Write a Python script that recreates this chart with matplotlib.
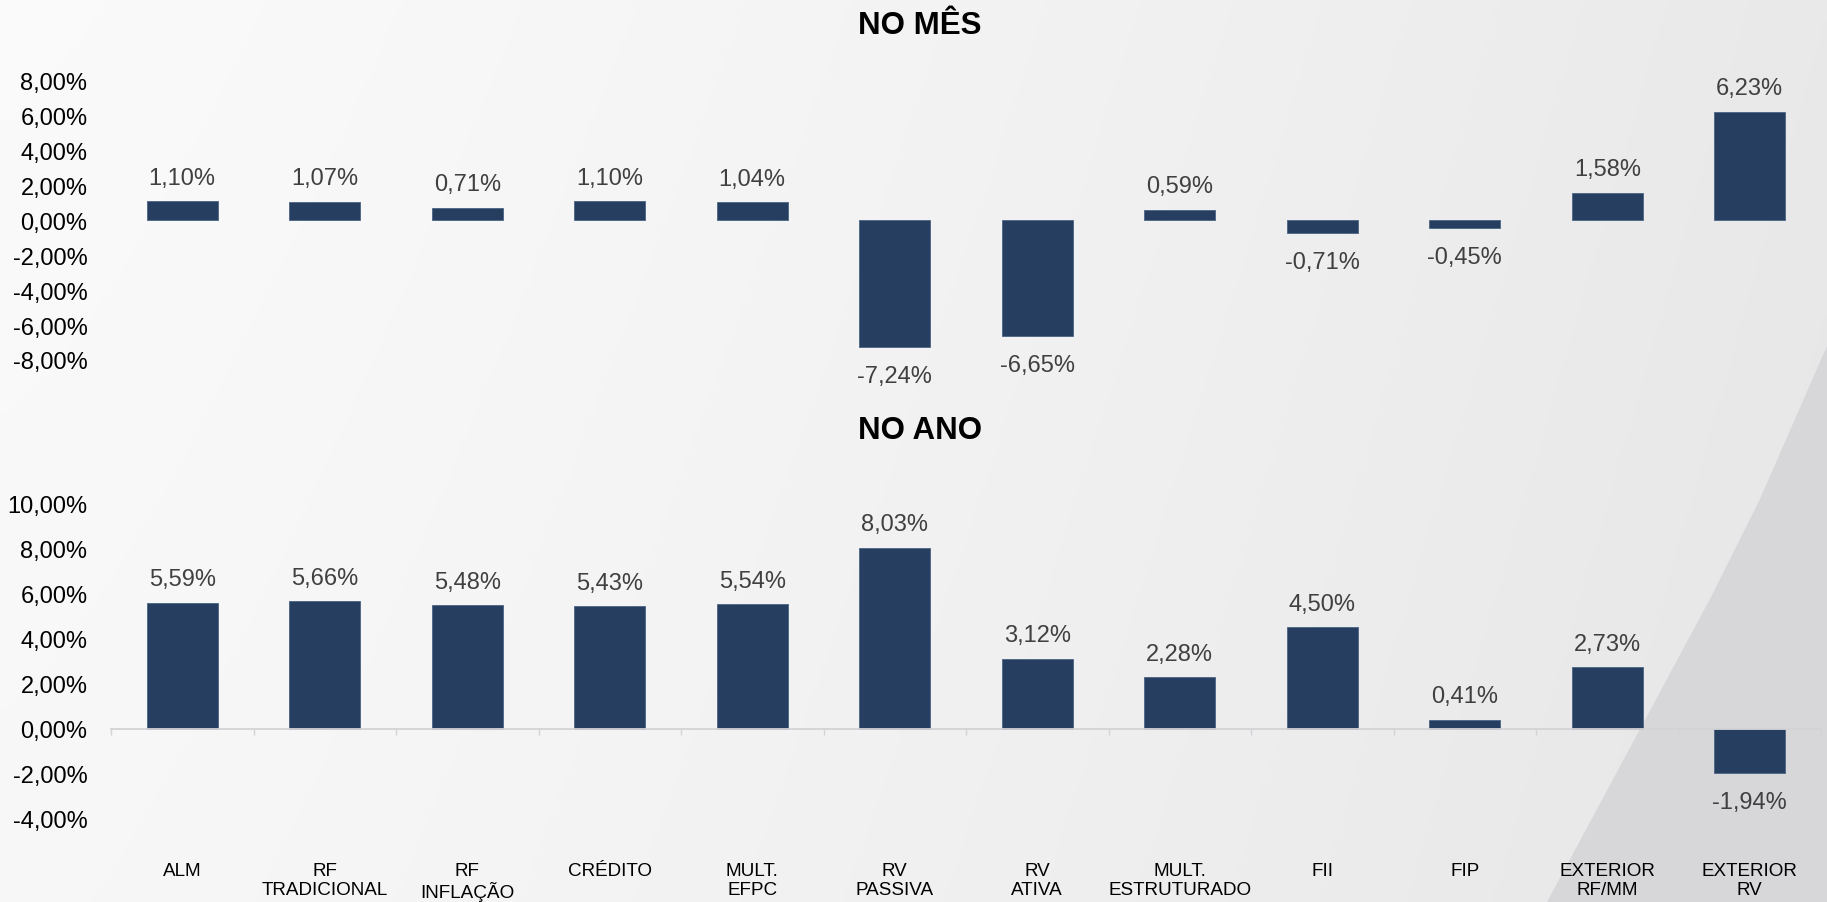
import numpy as np
import matplotlib
matplotlib.use("Agg")
import matplotlib.pyplot as plt
from matplotlib.patches import Polygon
from matplotlib.transforms import blended_transform_factory

plt.rcParams['font.family'] = ['Liberation Sans', 'DejaVu Sans']

# data
categories = ["ALM", "RF\nTRADICIONAL", "RF\nINFLAÇÃO", "CRÉDITO", "MULT.\nEFPC",
              "RV\nPASSIVA", "RV\nATIVA", "MULT.\nESTRUTURADO", "FII", "FIP",
              "EXTERIOR\nRF/MM", "EXTERIOR\nRV"]
no_mes = [1.10, 1.07, 0.71, 1.10, 1.04, -7.24, -6.65, 0.59, -0.71, -0.45, 1.58, 6.23]
no_ano = [5.59, 5.66, 5.48, 5.43, 5.54, 8.03, 3.12, 2.28, 4.50, 0.41, 2.73, -1.94]
ticks_mes = [-8, -6, -4, -2, 0, 2, 4, 6, 8]
ticks_ano = [-4, -2, 0, 2, 4, 6, 8, 10]

BAR = '#263f60'
W, H = 1827, 903


def pct(v):
    return f"{v:.2f}".replace('.', ',') + '%'


fig = plt.figure(figsize=(W / 100, H / 100), dpi=100)

# background: soft gradient plus darker wedge at bottom right
bg = fig.add_axes([0, 0, 1, 1], zorder=0)
gx = np.linspace(0, 1, 400)
gy = np.linspace(0, 1, 200)
GX, GY = np.meshgrid(gx, gy)
shade = 0.982 - 0.068 * GX ** 1.3 - 0.012 * GY
bg.imshow(np.dstack([shade, shade, shade * 1.004]).clip(0, 1), extent=[0, 1, 0, 1],
          aspect='auto', origin='upper')
wedge = [(1827, 347), (1760, 500), (1710, 600), (1547, 903), (1827, 903)]
bg.add_patch(Polygon([(px / W, 1 - py / H) for px, py in wedge], closed=True,
                     facecolor='#d7d7d9', edgecolor='none'))
bg.set_xlim(0, 1)
bg.set_ylim(0, 1)
bg.axis('off')

x = np.arange(len(categories))

ax1 = fig.add_axes([111 / W, 1 - 361 / H, 1710 / W, 279.4 / H], zorder=1)
ax2 = fig.add_axes([111 / W, 1 - 820 / H, 1710 / W, 315.5 / H], zorder=1)

for ax, vals, ticks in [(ax1, no_mes, ticks_mes), (ax2, no_ano, ticks_ano)]:
    ax.set_facecolor('none')
    ax.bar(x, vals, width=0.5, color=BAR, edgecolor='#4b6384', linewidth=0.6)
    ax.set_xlim(-0.5, len(categories) - 0.5)
    ax.set_ylim(ticks[0], ticks[-1])
    ax.set_yticks(ticks)
    ax.set_yticklabels([pct(t) for t in ticks], fontsize=17, color='black')
    ax.tick_params(axis='y', length=0, pad=17)
    for s in ['top', 'right', 'left', 'bottom']:
        ax.spines[s].set_visible(False)
    for xi, v in zip(x, vals):
        if v >= 0:
            ax.annotate(pct(v), (xi, v), xytext=(0, 9), textcoords='offset points',
                        ha='center', va='bottom', fontsize=17, color='#404040')
        else:
            ax.annotate(pct(v), (xi, v), xytext=(0, -13), textcoords='offset points',
                        ha='center', va='top', fontsize=17, color='#404040')

ax1.set_xticks([])

# bottom chart: zero axis line with boundary ticks
ax2.spines['bottom'].set_visible(True)
ax2.spines['bottom'].set_position(('data', 0))
ax2.spines['bottom'].set_color('#d3d3d5')
ax2.spines['bottom'].set_linewidth(1.3)
ax2.set_xticks([])
ax2.set_xticks(np.arange(len(categories) + 1) - 0.5, minor=True)
ax2.tick_params(axis='x', which='minor', length=4, width=1.0, color='#d3d3d5', direction='out')
ax2.tick_params(axis='x', which='major', length=0)

trans = blended_transform_factory(ax2.transData, ax2.transAxes)
for xi, lab in zip(x, categories):
    ax2.text(xi, -0.135, lab, transform=trans, ha='center', va='top', fontsize=13.6,
             color='black', linespacing=1.18)

fig.text(920 / W, 1 - 26 / H, "NO MÊS", ha='center', va='center', fontsize=22.5,
         fontweight='bold', color='black')
fig.text(920 / W, 1 - 431 / H, "NO ANO", ha='center', va='center', fontsize=22.5,
         fontweight='bold', color='black')

fig.savefig('out.png', dpi=100)
